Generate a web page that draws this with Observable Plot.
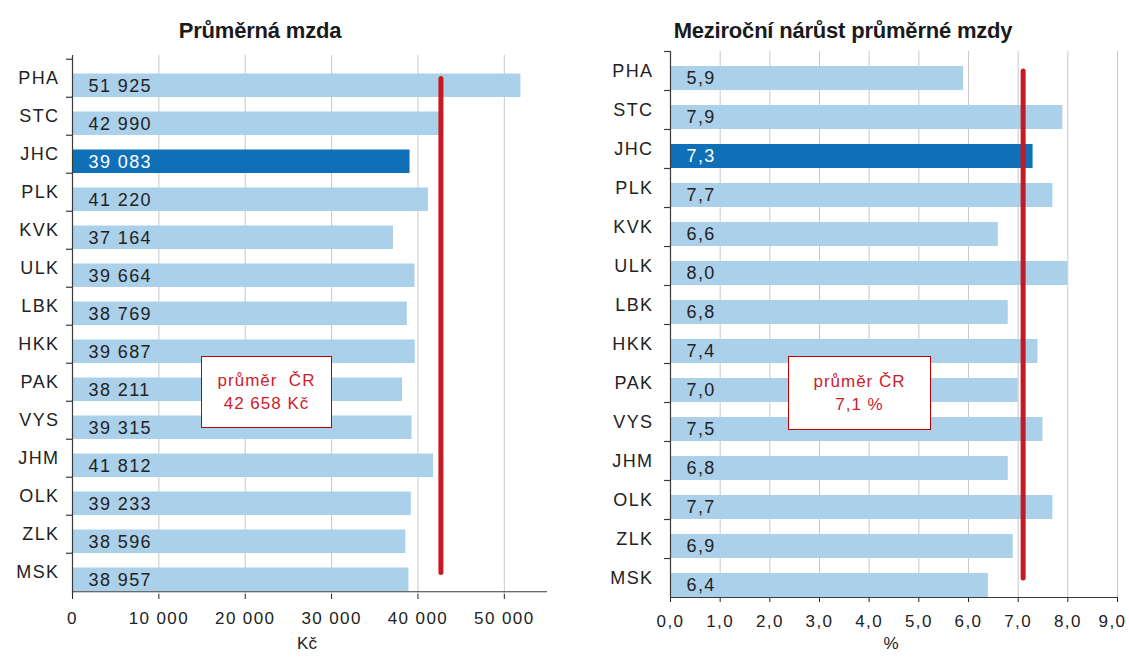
<!DOCTYPE html>
<html>
<head>
<meta charset="utf-8">
<script src="https://cdn.jsdelivr.net/npm/d3@7"></script>
<script src="https://cdn.jsdelivr.net/npm/@observablehq/plot@0.6"></script>
<style>
  body { margin: 0; background: #fff; font-family: "Liberation Sans", Arial, sans-serif; }
  #wrap { position: relative; width: 1129px; height: 657px; overflow: hidden; background: #fff; }
  .chart { position: absolute; top: 0; }
  .chart svg { max-width: none !important; background: transparent !important; }
  .chart svg text { letter-spacing: 1.4px; }
  .chart svg g[aria-label="cat"] text { letter-spacing: 3px; }
  .chart svg g[aria-label="val"] text { letter-spacing: 1.6px; }
  .title { position: absolute; top: 18px; line-height: 26px; font-weight: bold; font-size: 22px; color: #1a1a1a;
           transform: translateX(-50%); white-space: nowrap; letter-spacing: -0.2px; }
  .xlabel { position: absolute; top: 634px; line-height: 20px; font-size: 17px; color: #222; transform: translateX(-50%); }
  .note { position: absolute; background: #fff; border: 1px solid #c00000; color: #d0202a; box-sizing: border-box;
          display: flex; flex-direction: column; justify-content: center; align-items: center;
          font-size: 17px; line-height: 23px; letter-spacing: 1px; white-space: nowrap; }
</style>
</head>
<body>
<div id="wrap">
  <div class="chart" id="left" style="left:0px"></div>
  <div class="chart" id="right" style="left:565px"></div>
  <div class="title" style="left:260px">Průměrná mzda</div>
  <div class="title" style="left:843px">Meziroční nárůst průměrné mzdy</div>
  <div class="xlabel" style="left:307px">Kč</div>
  <div class="xlabel" style="left:891px">%</div>
  <div class="note" style="left:201px;top:356px;width:131px;height:72px"><div>průměr&nbsp; ČR</div><div>42 658 Kč</div></div>
  <div class="note" style="left:788px;top:356px;width:143px;height:74px"><div>průměr&nbsp;ČR</div><div>7,1 %</div></div>
</div>
<script>
// ---- data ----
const regions = ["PHA","STC","JHC","PLK","KVK","ULK","LBK","HKK","PAK","VYS","JHM","OLK","ZLK","MSK"];
const wages   = [51925,42990,39083,41220,37164,39664,38769,39687,38211,39315,41812,39233,38596,38957];
const growth  = [5.9,7.9,7.3,7.7,6.6,8.0,6.8,7.4,7.0,7.5,6.8,7.7,6.9,6.4];
const wageTicks = [0,10000,20000,30000,40000,50000];
const growthTicks = [0,1,2,3,4,5,6,7,8,9];
const avgWage = 42658;
const avgGrowth = 7.1;
const highlight = "JHC";

const LIGHT = "#abd0ea", DARK = "#0f70b7", RED = "#c41a24", AXIS = "#3a3a3a", GRID = "#c8c8c8";

const fmtWage = d => d === 0 ? "0" : d3.format(",")(d).replace(/,/g, " ");
const fmtPct = d => d.toFixed(1).replace(".", ",");

function makeChart({values, ticks, domainMax, avg, fmt, width, marginLeft, marginRight, marginTop, marginBottom, tickLen, labelGap, lastDx}) {
  const height = 657;
  const data = regions.map((r, i) => ({r, v: values[i]}));
  const step = (height - marginTop - marginBottom) / regions.length;
  const insetTop = step - 24;
  const last = regions[regions.length - 1];
  const lastTick = ticks[ticks.length - 1];
  const isHi = d => d.r === highlight;
  return Plot.plot({
    width, height, marginLeft, marginRight, marginTop, marginBottom,
    style: {fontFamily: "'Liberation Sans', Arial, sans-serif", fontSize: "17px", color: "#222", background: "transparent"},
    x: {domain: [0, domainMax], ticks, tickFormat: d => (lastDx && d === lastTick) ? "" : fmt(d), tickSize: 5, tickPadding: 12, label: null},
    y: {domain: regions, padding: 0, axis: null},
    marks: [
      Plot.ruleX(ticks.filter(t => t > 0), {stroke: GRID, strokeWidth: 1}),
      Plot.barX(data.filter(d => !isHi(d)), {x1: 0, x2: "v", y: "r", fill: LIGHT, insetTop}),
      Plot.barX(data.filter(isHi), {x1: 0, x2: "v", y: "r", fill: DARK, insetTop}),
      Plot.ruleX([0], {stroke: AXIS, strokeWidth: 1.2}),
      Plot.ruleY([last], {dy: step / 2, stroke: AXIS, strokeWidth: 1.2}),
      Plot.ruleY(regions, {y: d => d, x1: -tickLen, x2: 0, dy: -step / 2, stroke: AXIS, strokeWidth: 1.2}),
      Plot.text(data.filter(d => !isHi(d)), {x: 0, y: "r", text: d => fmt(d.v), dx: 16, dy: insetTop / 2, textAnchor: "start", fill: "#222", fontSize: 18, ariaLabel: "val"}),
      Plot.text(data.filter(isHi), {x: 0, y: "r", text: d => fmt(d.v), dx: 16, dy: insetTop / 2, textAnchor: "start", fill: "#fff", fontSize: 18, ariaLabel: "val"}),
      Plot.text(regions, {x: 0, y: d => d, text: d => d, dx: -labelGap, textAnchor: "end", fill: "#222", fontSize: 18, ariaLabel: "cat"}),
      lastDx ? Plot.text([lastTick], {x: d => d, text: d => fmt(d), frameAnchor: "bottom", lineAnchor: "top", dy: 17, dx: lastDx, fill: "#222"}) : null,
      Plot.line([{x: avg, y: regions[0]}, {x: avg, y: last}], {x: "x", y: "y", stroke: RED, strokeWidth: 5, strokeLinecap: "round"})
    ]
  });
}

document.getElementById("left").appendChild(makeChart({
  values: wages, ticks: wageTicks, domainMax: 55000, avg: avgWage, fmt: fmtWage,
  width: 565, marginLeft: 72, marginRight: 18, marginTop: 55, marginBottom: 63, tickLen: 700, labelGap: 13, lastDx: 0
}));
document.getElementById("right").appendChild(makeChart({
  values: growth, ticks: growthTicks, domainMax: 9, avg: avgGrowth, fmt: fmtPct,
  width: 564, marginLeft: 105, marginRight: 12, marginTop: 51, marginBottom: 60, tickLen: 0.12, labelGap: 17, lastDx: -5
}));
</script>
</body>
</html>
